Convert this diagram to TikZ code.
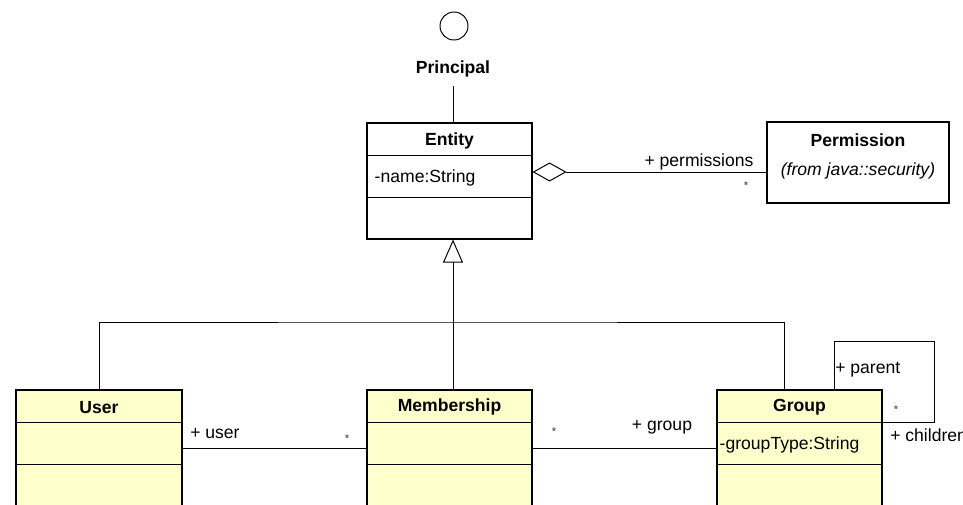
\documentclass[tikz,border=0pt]{standalone}
\usepackage{fontspec}
\setmainfont{Liberation Sans}
\usetikzlibrary{arrows.meta}
\usetikzlibrary{positioning}

\definecolor{classyellow}{RGB}{255,255,204}
\newcommand{\umlfont}{\fontsize{12.5}{15}\selectfont}
\tikzset{
  umlline/.style={black,line width=0.7pt},
  umlbox/.style={rectangle,draw=black,line width=0.8pt,inner sep=0pt},
  umlclass/.style={umlbox,fill=classyellow,minimum width=4.125cm,minimum height=3cm},
  umlname/.style={font=\umlfont\bfseries,text=black,anchor=center},
  umlattr/.style={font=\umlfont,text=black,anchor=west,inner sep=0pt},
  umlrole/.style={font=\umlfont,text=black,inner sep=0pt},
  umlmult/.style={font=\fontsize{8}{9}\selectfont,text=black!80,inner sep=0pt},
  gen/.style={umlline,-{Triangle[open,length=0.575cm,width=0.5cm]}},
  aggr/.style={umlline,{Diamond[open,length=0.85cm,width=0.475cm]}-},
}

\begin{document}
\begin{tikzpicture}
\useasboundingbox (0,0) rectangle (24.075,12.6);

% interface
\node[circle,draw,umlline,minimum size=0.7cm,inner sep=0pt] (iface) at (11.35,11.95) {};
\node[umlname,minimum height=0.85cm] (principal) at (11.325,10.875) {Principal};

% classes
\node[umlbox,fill=white,minimum width=4.125cm,minimum height=2.9cm] (entity) at (11.2375,8.075) {};
\node[umlbox,fill=white,minimum width=4.55cm,minimum height=2.025cm] (permission) at (21.45,8.5375) {};
\node[umlclass,minimum width=4.15cm] (user) at (2.475,1.35) {};
\node[umlclass] (membership) at (11.2375,1.35) {};
\node[umlclass] (group) at (19.9875,1.35) {};

\foreach \c in {entity,user,membership,group} {
  \draw[umlline] ([yshift=-0.825cm]\c.north west) -- ([yshift=-0.825cm]\c.north east);
  \draw[umlline] ([yshift=-1.875cm]\c.north west) -- ([yshift=-1.875cm]\c.north east);
}

\node[umlname] (entityname) at ([yshift=-0.475cm]entity.north) {Entity};
\node[umlattr] (entityattr) at ([xshift=0.2cm,yshift=-1.4cm]entity.north west) {-name:String};
\node[umlname] (permissionname) at ([yshift=-0.475cm]permission.north) {Permission};
\node[umlrole,font=\umlfont\itshape] (permissionfrom) at ([yshift=-1.2375cm]permission.north) {(from java::security)};
\node[umlname] (username) at ([yshift=-0.45cm]user.north) {User};
\node[umlname] (membershipname) at ([yshift=-0.45cm]membership.north) {Membership};
\node[umlname] (groupname) at ([yshift=-0.45cm]group.north) {Group};
\node[umlattr] (groupattr) at ([xshift=0.075cm,yshift=-1.4cm]group.north west) {-groupType:String};

% principal
\draw[umlline] (principal.south) -- (principal.south |- entity.north);

% aggregation
\coordinate (aggrrow) at (0,8.3);
\draw[aggr] (entity.east |- aggrrow) -- (permission.west |- aggrrow);
\node[umlrole] (permrole) at (17.475,8.55) {+ permissions};
\node[umlmult] (permmult) at (18.65,7.965) {*};

% generalization
\coordinate (bus) at (11.325,4.55);
\coordinate (grouptop) at (19.6,2.85);
\draw[gen] (bus) -- (bus |- entity.south);
\draw[umlline] (user.north) |- (bus) -| (grouptop);
\draw[umlline] (bus) -- (bus |- membership.north);

% associations
\coordinate (assocrow) at (0,1.4);
\draw[umlline] (user.east |- assocrow) -- (membership.west |- assocrow);
\draw[umlline] (membership.east |- assocrow) -- (group.west |- assocrow);
\node[umlrole,anchor=west] (userrole) at (4.75,1.75) {+ user};
\node[umlmult] (usermult) at (8.675,1.64) {*};
\node[umlmult] (groupmult) at (13.85,1.815) {*};
\node[umlrole] (grouprole) at (16.55,1.925) {+ group};

% self association
\coordinate (selfstart) at (20.85,2.85);
\coordinate (selfcorner) at (23.35,4.075);
\coordinate (selfend) at (0,2.05);
\draw[umlline] (selfstart) |- (selfcorner) |- (group.east |- selfend);
\node[umlrole,anchor=west] (parentrole) at (20.875,3.35) {+ parent};
\node[umlmult] (childmult) at (22.4,2.365) {*};
\node[umlrole,anchor=west] (childrole) at (22.25,1.725) {+ children};

\end{tikzpicture}
\end{document}
